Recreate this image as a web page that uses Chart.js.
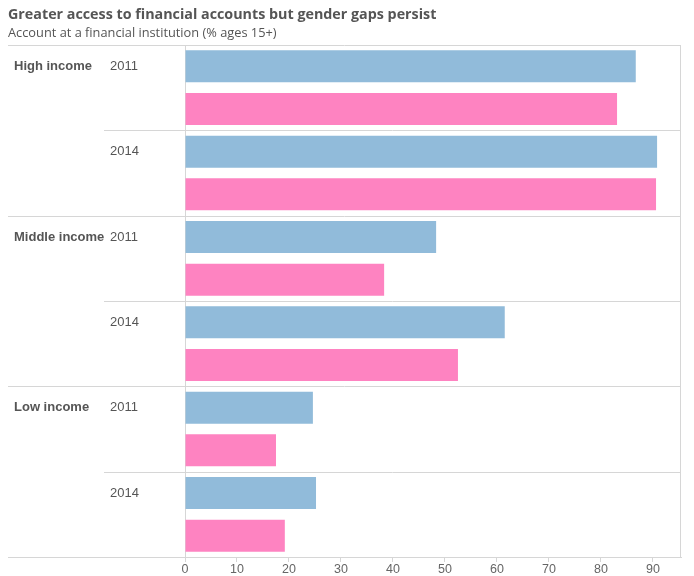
<!DOCTYPE html>
<html>
<head>
<meta charset="utf-8">
<script src="https://cdn.jsdelivr.net/npm/chart.js@4"></script>
<style>
  body { margin: 0; background: #fff; }
  #wrap { width: 694px; height: 576px; position: relative; }
</style>
</head>
<body>
<div id="wrap"><canvas id="chart"></canvas></div>
<script>
// data
const groups = ["High income", "Middle income", "Low income"];
const years = ["2011", "2014"];
// order: [High 2011, High 2014, Middle 2011, Middle 2014, Low 2011, Low 2014]
const maleValues = [86.7, 90.8, 48.3, 61.5, 24.6, 25.2];
const femaleValues = [83.1, 90.6, 38.3, 52.5, 17.5, 19.2];
const xTicks = [0, 10, 20, 30, 40, 50, 60, 70, 80, 90];

const TITLE = "Greater access to financial accounts but gender gaps persist";
const SUBTITLE = "Account at a financial institution (% ages 15+)";
const BLUE = "#91bbda";
const PINK = "#fe83c1";
const LINE = "#d6d6d6";
const TEXT = "#555555";

const labels = [];
const values = [];
const colors = [];
groups.forEach((g, gi) => {
  years.forEach((y, yi) => {
    const idx = gi * years.length + yi;
    labels.push(`${g} ${y} male`);
    values.push(maleValues[idx]);
    colors.push(BLUE);
    labels.push(`${g} ${y} female`);
    values.push(femaleValues[idx]);
    colors.push(PINK);
  });
});

const tablePlugin = {
  id: "table",
  beforeDatasetsDraw(chart) {
    const { ctx, chartArea, scales } = chart;
    const yScale = scales.y;
    const perYear = 2;
    const perGroup = years.length * perYear;
    const slot = (chartArea.bottom - chartArea.top) / labels.length;
    ctx.save();
    ctx.strokeStyle = LINE;
    ctx.lineWidth = 1;
    const hline = (x0, y) => {
      ctx.beginPath();
      ctx.moveTo(x0, Math.round(y) + 0.5);
      ctx.lineTo(chartArea.right, Math.round(y) + 0.5);
      ctx.stroke();
    };
    // group lines + year lines
    for (let i = 0; i <= labels.length; i += perYear) {
      const y = i < labels.length
        ? yScale.getPixelForValue(i) - slot / 2
        : yScale.getPixelForValue(i - 1) + slot / 2;
      if (i % perGroup === 0) hline(8, y);
      else hline(104, y);
    }
    // left and right frame
    ctx.beginPath();
    ctx.moveTo(Math.round(chartArea.left) + 0.5, chartArea.top);
    ctx.lineTo(Math.round(chartArea.left) + 0.5, chartArea.bottom);
    ctx.moveTo(Math.round(chartArea.right) - 0.5, chartArea.top);
    ctx.lineTo(Math.round(chartArea.right) - 0.5, chartArea.bottom);
    ctx.stroke();

    // row labels
    ctx.fillStyle = TEXT;
    ctx.textBaseline = "middle";
    ctx.textAlign = "left";
    groups.forEach((g, gi) => {
      const y = yScale.getPixelForValue(gi * perGroup);
      ctx.font = "bold 13px 'Liberation Sans', Arial, sans-serif";
      ctx.fillText(g, 14, y);
      years.forEach((yr, yi) => {
        const yy = yScale.getPixelForValue(gi * perGroup + yi * perYear);
        ctx.font = "13px 'Liberation Sans', Arial, sans-serif";
        ctx.fillText(yr, 110, yy);
      });
    });

    // title + subtitle
    ctx.font = "bold 14.3px 'Open Sans', sans-serif";
    ctx.fillText(TITLE, 8, 15);
    ctx.font = "12.8px 'Open Sans', sans-serif";
    ctx.fillText(SUBTITLE, 8, 33);
    ctx.restore();
  },
};

new Chart(document.getElementById("chart"), {
  type: "bar",
  data: {
    labels,
    datasets: [
      {
        data: values,
        backgroundColor: colors,
        borderWidth: 0,
        categoryPercentage: 1,
        barPercentage: 0.75,
      },
    ],
  },
  options: {
    indexAxis: "y",
    responsive: true,
    maintainAspectRatio: false,
    animation: false,
    layout: {
      padding: { left: 185, right: 13, top: 45, bottom: 0 },
    },
    scales: {
      y: {
        type: "category",
        display: false,
      },
      x: {
        min: 0,
        max: 95.4,
        afterBuildTicks: (scale) => {
          scale.ticks = xTicks.map((v) => ({ value: v }));
        },
        afterFit: (scale) => {
          scale.height = 19;
        },
        border: { display: true, color: LINE },
        grid: {
          drawOnChartArea: false,
          drawTicks: true,
          tickLength: 5,
          color: LINE,
        },
        ticks: {
          padding: 0,
          color: "#666",
          font: { family: "'Liberation Sans', Arial, sans-serif", size: 12.5 },
        },
      },
    },
    plugins: {
      legend: { display: false },
      tooltip: { enabled: false },
    },
  },
  plugins: [tablePlugin],
});
</script>
</body>
</html>
